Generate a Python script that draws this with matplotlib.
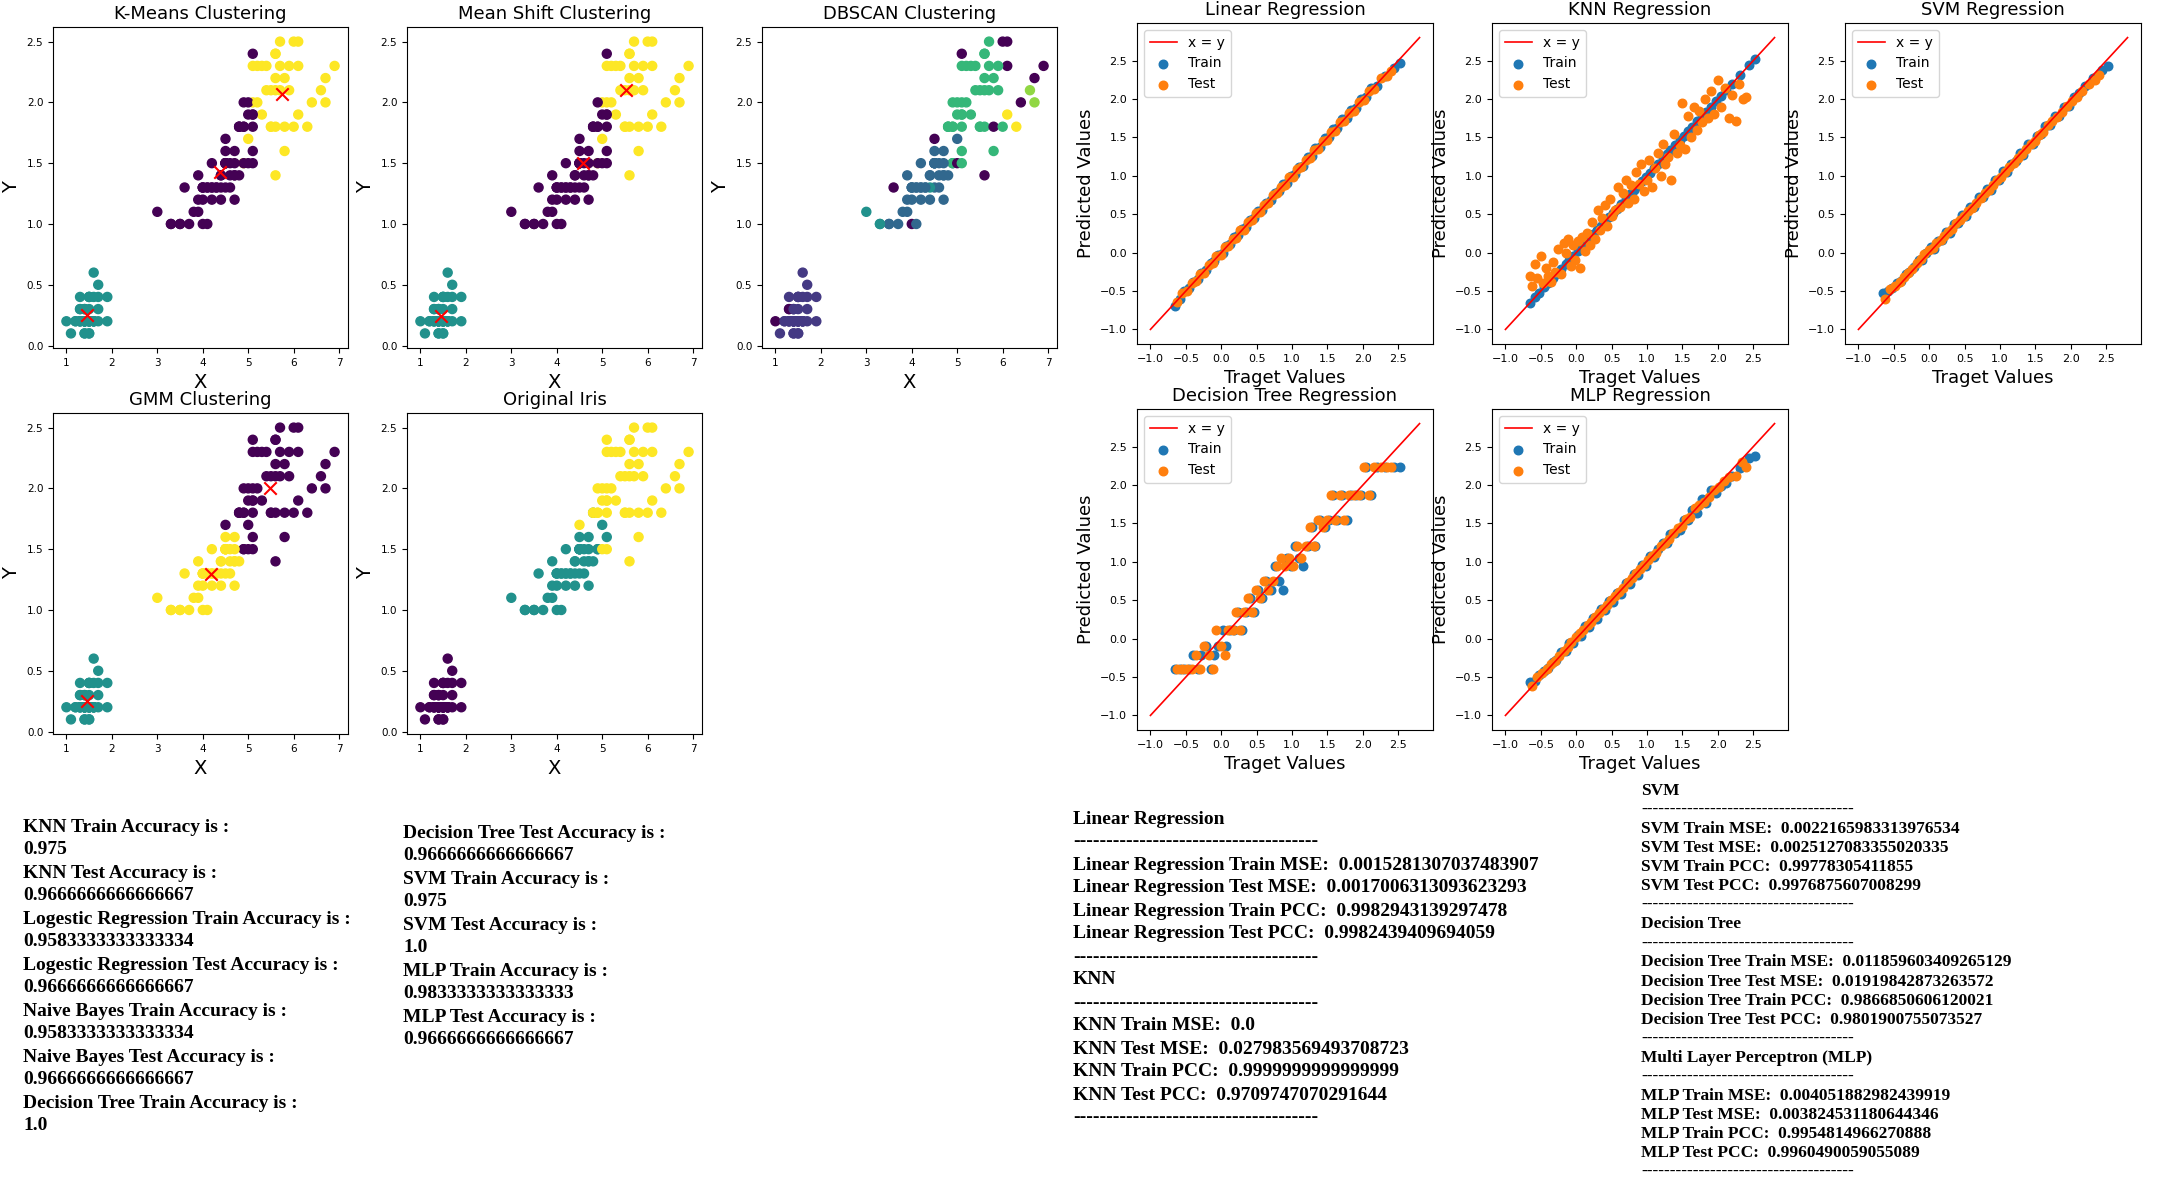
import matplotlib
matplotlib.use("Agg")
import matplotlib.pyplot as plt
from matplotlib.ticker import MultipleLocator
import numpy as np

W, H, DPI = 2162, 1184, 100

# ---------------- Iris petal data (X = petal length, Y = petal width) ----------------
PETAL_LENGTH = [
    1.4, 1.4, 1.3, 1.5, 1.4, 1.7, 1.4, 1.5, 1.4, 1.5, 1.5, 1.6, 1.4, 1.1, 1.2, 1.5, 1.3, 1.4, 1.7, 1.5,
    1.7, 1.5, 1.0, 1.7, 1.9, 1.6, 1.6, 1.5, 1.4, 1.6, 1.6, 1.5, 1.5, 1.4, 1.5, 1.2, 1.3, 1.4, 1.3, 1.5,
    1.3, 1.3, 1.3, 1.6, 1.9, 1.4, 1.6, 1.4, 1.5, 1.4,
    4.7, 4.5, 4.9, 4.0, 4.6, 4.5, 4.7, 3.3, 4.6, 3.9, 3.5, 4.2, 4.0, 4.7, 3.6, 4.4, 4.5, 4.1, 4.5, 3.9,
    4.8, 4.0, 4.9, 4.7, 4.3, 4.4, 4.8, 5.0, 4.5, 3.5, 3.8, 3.7, 3.9, 5.1, 4.5, 4.5, 4.7, 4.4, 4.1, 4.0,
    4.4, 4.6, 4.0, 3.3, 4.2, 4.2, 4.2, 4.3, 3.0, 4.1,
    6.0, 5.1, 5.9, 5.6, 5.8, 6.6, 4.5, 6.3, 5.8, 6.1, 5.1, 5.3, 5.5, 5.0, 5.1, 5.3, 5.5, 6.7, 6.9, 5.0,
    5.7, 4.9, 6.7, 4.9, 5.7, 6.0, 4.8, 4.9, 5.6, 5.8, 6.1, 6.4, 5.6, 5.1, 5.6, 6.1, 5.6, 5.5, 4.8, 5.4,
    5.6, 5.1, 5.1, 5.9, 5.7, 5.2, 5.0, 5.2, 5.4, 5.1,
]
PETAL_WIDTH = [
    0.2, 0.2, 0.2, 0.2, 0.2, 0.4, 0.3, 0.2, 0.2, 0.1, 0.2, 0.2, 0.1, 0.1, 0.2, 0.4, 0.4, 0.3, 0.3, 0.3,
    0.2, 0.4, 0.2, 0.5, 0.2, 0.2, 0.4, 0.2, 0.2, 0.2, 0.2, 0.4, 0.1, 0.2, 0.2, 0.2, 0.2, 0.1, 0.2, 0.2,
    0.3, 0.3, 0.2, 0.6, 0.4, 0.3, 0.2, 0.2, 0.2, 0.2,
    1.4, 1.5, 1.5, 1.3, 1.5, 1.3, 1.6, 1.0, 1.3, 1.4, 1.0, 1.5, 1.0, 1.4, 1.3, 1.4, 1.5, 1.0, 1.5, 1.1,
    1.8, 1.3, 1.5, 1.2, 1.3, 1.4, 1.4, 1.7, 1.5, 1.0, 1.1, 1.0, 1.2, 1.6, 1.5, 1.6, 1.5, 1.3, 1.3, 1.3,
    1.2, 1.4, 1.2, 1.0, 1.3, 1.2, 1.3, 1.3, 1.1, 1.3,
    2.5, 1.9, 2.1, 1.8, 2.2, 2.1, 1.7, 1.8, 1.8, 2.5, 2.0, 1.9, 2.1, 2.0, 2.4, 2.3, 1.8, 2.2, 2.3, 1.5,
    2.3, 2.0, 2.0, 1.8, 2.1, 1.8, 1.8, 1.8, 2.1, 1.6, 1.9, 2.0, 2.2, 1.5, 1.4, 2.3, 2.4, 1.8, 1.8, 2.1,
    2.4, 2.3, 1.9, 2.3, 2.5, 2.3, 1.9, 2.0, 2.3, 1.8,
]

# cluster labels per point, groups of ten (n = noise, -1)
KMEANS_LABELS = ("1111111111 1111111111 1111111111 1111111111 1111111111 "
                 "0020000000 0000000000 0000000200 0000000000 0000000000 "
                 "2022220222 2220022220 2020220022 2220222202 2202220220")
MEANSHIFT_LABELS = ("1111111111 1111111111 1111111111 1111111111 1111111111 "
                    "0020000000 0000000000 0000000200 0000000000 0000000000 "
                    "2022220222 2222022220 2020220022 2220222202 2202220220")
DBSCAN_LABELS = ("0000000000 0000000000 00n0000000 0000000000 0n00000000 "
                 "1111111211 11n1n11111 3131111111 1113111211 1112111121 "
                 "n33334n5nn 3333n33nnn 3343333333 5n33nn3333 3333333333")
GMM_LABELS = ("1111111111 1111111111 1111111111 1111111111 1111111111 "
              "2202222222 2222222222 0202222022 2220222222 2222222222 "
              "0000000000 0000000000 0000000000 0000000000 0000000000")
IRIS_LABELS = ("0000000000 0000000000 0000000000 0000000000 0000000000 "
               "1111111111 1111111111 1111111111 1111111111 1111111111 "
               "2222222222 2222222222 2222222222 2222222222 2222222222")

KMEANS_CX, KMEANS_CY = [1.46, 4.39, 5.74], [0.25, 1.43, 2.07]
MEANSHIFT_CX, MEANSHIFT_CY = [1.46, 4.57, 5.53], [0.24, 1.50, 2.10]
GMM_CX, GMM_CY = [1.46, 4.18, 5.47], [0.25, 1.30, 2.00]

# ---------------- Regression data ----------------
TRAIN_TARGET = [-0.66, -0.58, -0.52, -0.45, -0.40, -0.33, -0.28, -0.21, -0.15, -0.10,
                -0.04, 0.02, 0.07, 0.13, 0.18, 0.24, 0.29, 0.35, 0.41, 0.46,
                0.52, 0.57, 0.63, 0.70, 0.76, 0.81, 0.87, 0.93, 0.98, 1.04,
                1.10, 1.15, 1.22, 1.28, 1.33, 1.40, 1.46, 1.52, 1.58, 1.64,
                1.71, 1.77, 1.83, 1.90, 1.97, 2.04, 2.12, 2.20, 2.31, 2.44, 2.52]
TEST_TARGET = [-0.62, -0.55, -0.48, -0.42, -0.36, -0.30, -0.25, -0.18, -0.12, -0.07,
               -0.01, 0.05, 0.10, 0.16, 0.21, 0.27, 0.32, 0.38, 0.44, 0.49,
               0.55, 0.60, 0.66, 0.73, 0.79, 0.84, 0.90, 0.96, 1.01, 1.07,
               1.13, 1.19, 1.25, 1.31, 1.37, 1.43, 1.49, 1.55, 1.61, 1.68,
               1.74, 1.80, 1.87, 1.94, 2.01, 2.08, 2.16, 2.25, 2.34, 2.40]

LIN_TRAIN_PRED = [-0.70, -0.60, -0.50, -0.46, -0.38, -0.34, -0.27, -0.22, -0.13, -0.11,
                  -0.03, 0.00, 0.08, 0.11, 0.20, 0.23, 0.31, 0.34, 0.43, 0.45,
                  0.54, 0.56, 0.65, 0.68, 0.78, 0.80, 0.89, 0.91, 1.00, 1.02,
                  1.12, 1.13, 1.25, 1.26, 1.36, 1.38, 1.49, 1.50, 1.61, 1.62,
                  1.74, 1.75, 1.86, 1.88, 2.00, 2.02, 2.14, 2.17, 2.30, 2.40, 2.47]
LIN_TEST_PRED = [-0.64, -0.52, -0.50, -0.40, -0.37, -0.28, -0.26, -0.16, -0.13, -0.05,
                 -0.03, 0.07, 0.08, 0.18, 0.19, 0.29, 0.30, 0.40, 0.42, 0.51,
                 0.53, 0.62, 0.64, 0.75, 0.77, 0.86, 0.88, 0.98, 0.99, 1.09,
                 1.11, 1.21, 1.23, 1.33, 1.35, 1.45, 1.47, 1.57, 1.59, 1.70,
                 1.72, 1.82, 1.85, 1.96, 1.99, 2.10, 2.13, 2.28, 2.30, 2.37]

KNN_TRAIN_PRED = [-0.66, -0.58, -0.52, -0.45, -0.40, -0.33, -0.28, -0.21, -0.15, -0.10,
                  -0.04, 0.02, 0.07, 0.13, 0.18, 0.24, 0.29, 0.35, 0.41, 0.46,
                  0.52, 0.57, 0.63, 0.70, 0.76, 0.81, 0.87, 0.93, 0.98, 1.04,
                  1.10, 1.15, 1.22, 1.28, 1.33, 1.40, 1.46, 1.52, 1.58, 1.64,
                  1.71, 1.77, 1.83, 1.90, 1.97, 2.04, 2.12, 2.20, 2.31, 2.44, 2.52]
KNN_TEST_TARGET = [-0.65, -0.62, -0.58, -0.55, -0.50, -0.47, -0.43, -0.40, -0.36, -0.33,
                   -0.30, -0.26, -0.22, -0.18, -0.15, -0.12, -0.08, -0.05, -0.02, 0.02,
                   0.05, 0.08, 0.12, 0.15, 0.19, 0.22, 0.26, 0.30, 0.33, 0.37,
                   0.40, 0.44, 0.48, 0.51, 0.55, 0.59, 0.62, 0.66, 0.70, 0.73,
                   0.77, 0.81, 0.85, 0.88, 0.92, 0.96, 1.00, 1.03, 1.07, 1.11,
                   1.15, 1.19, 1.22, 1.26, 1.30, 1.34, 1.38, 1.42, 1.46, 1.50,
                   1.54, 1.58, 1.62, 1.66, 1.70, 1.74, 1.78, 1.82, 1.86, 1.90,
                   1.95, 2.00, 2.05, 2.10, 2.15, 2.20, 2.25, 2.30, 2.35, 2.40]
KNN_TEST_PRED = [-0.30, -0.44, -0.15, -0.33, -0.05, -0.40, -0.20, -0.30, -0.38, -0.12,
                 -0.25, 0.05, -0.28, 0.12, 0.00, 0.18, -0.18, 0.10, -0.10, 0.15,
                 -0.20, 0.20, 0.02, 0.25, 0.10, 0.40, 0.18, 0.55, 0.30, 0.45,
                 0.62, 0.35, 0.70, 0.48, 0.55, 0.85, 0.60, 0.78, 0.95, 0.65,
                 0.88, 0.70, 1.05, 0.90, 1.15, 0.80, 0.95, 1.20, 0.85, 1.10,
                 1.30, 1.00, 1.42, 1.15, 1.25, 0.95, 1.55, 1.30, 1.40, 1.95,
                 1.35, 1.78, 1.50, 1.90, 1.60, 1.85, 1.70, 2.00, 1.75, 2.10,
                 1.80, 2.25, 1.90, 2.15, 1.75, 2.05, 1.72, 2.20, 2.00, 2.02]

SVM_TRAIN_PRED = [-0.52, -0.50, -0.46, -0.40, -0.37, -0.28, -0.25, -0.19, -0.10, -0.09,
                  -0.01, 0.07, 0.05, 0.15, 0.16, 0.27, 0.26, 0.37, 0.38, 0.49,
                  0.48, 0.60, 0.59, 0.72, 0.72, 0.83, 0.82, 0.95, 0.94, 1.06,
                  1.05, 1.16, 1.19, 1.30, 1.27, 1.42, 1.41, 1.52, 1.54, 1.65,
                  1.66, 1.78, 1.78, 1.90, 1.91, 2.02, 2.08, 2.17, 2.28, 2.38, 2.43]
SVM_TEST_PRED = [-0.60, -0.48, -0.44, -0.38, -0.32, -0.27, -0.21, -0.14, -0.08, -0.02,
                 0.03, 0.06, 0.12, 0.17, 0.22, 0.27, 0.31, 0.38, 0.43, 0.48,
                 0.54, 0.58, 0.64, 0.71, 0.77, 0.82, 0.88, 0.94, 0.99, 1.05,
                 1.11, 1.17, 1.23, 1.28, 1.35, 1.41, 1.45, 1.53, 1.57, 1.66,
                 1.72, 1.77, 1.83, 1.91, 1.97, 2.03, 2.10, 2.20, 2.25, 2.31]

DT_TRAIN_PRED = [-0.40, -0.40, -0.40, -0.40, -0.21, -0.40, -0.21, -0.09, -0.40, -0.21,
                 -0.09, 0.11, -0.09, 0.11, 0.11, 0.35, 0.11, 0.35, 0.53, 0.35,
                 0.63, 0.53, 0.75, 0.63, 0.95, 0.75, 0.63, 1.05, 0.95, 1.21,
                 1.05, 0.95, 1.21, 1.45, 1.21, 1.55, 1.45, 1.55, 1.87, 1.55,
                 1.87, 1.55, 1.87, 1.87, 1.87, 2.24, 1.87, 2.24, 2.24, 2.24, 2.24]
DT_TEST_PRED = [-0.40, -0.40, -0.40, -0.40, -0.21, -0.40, -0.09, -0.21, -0.40, 0.11,
                -0.09, -0.21, 0.11, 0.11, 0.35, 0.11, 0.35, 0.53, 0.35, 0.63,
                0.53, 0.75, 0.63, 0.75, 0.95, 1.05, 0.95, 1.05, 0.95, 1.21,
                1.05, 1.21, 1.45, 1.21, 1.55, 1.45, 1.55, 1.87, 1.55, 1.87,
                1.55, 1.87, 1.87, 1.87, 2.24, 1.87, 2.24, 2.24, 2.24, 2.24]

MLP_TRAIN_PRED = [-0.57, -0.55, -0.47, -0.42, -0.38, -0.30, -0.28, -0.18, -0.16, -0.06,
                  -0.06, 0.05, 0.04, 0.16, 0.15, 0.27, 0.26, 0.38, 0.37, 0.49,
                  0.48, 0.60, 0.58, 0.73, 0.71, 0.84, 0.83, 0.96, 0.94, 1.07,
                  1.06, 1.17, 1.25, 1.24, 1.36, 1.38, 1.42, 1.55, 1.54, 1.67,
                  1.64, 1.82, 1.76, 1.93, 1.90, 1.99, 2.02, 2.12, 2.22, 2.35, 2.38]
MLP_TEST_PRED = [-0.62, -0.50, -0.45, -0.40, -0.33, -0.29, -0.22, -0.16, -0.11, -0.04,
                 0.02, 0.07, 0.11, 0.18, 0.22, 0.28, 0.33, 0.39, 0.44, 0.50,
                 0.56, 0.61, 0.66, 0.74, 0.79, 0.85, 0.91, 0.96, 1.02, 1.08,
                 1.12, 1.20, 1.25, 1.30, 1.38, 1.44, 1.47, 1.56, 1.58, 1.70,
                 1.74, 1.78, 1.85, 1.93, 1.98, 2.05, 2.10, 2.12, 2.30, 2.24]
LINE_ENDS = [-1.0, 2.8]

# ---------------- Text blocks ----------------
ACC_COL1 = ["KNN Train Accuracy is :", "0.975",
            "KNN Test Accuracy is :", "0.9666666666666667",
            "Logestic Regression Train Accuracy is :", "0.9583333333333334",
            "Logestic Regression Test Accuracy is :", "0.9666666666666667",
            "Naive Bayes Train Accuracy is :", "0.9583333333333334",
            "Naive Bayes Test Accuracy is :", "0.9666666666666667",
            "Decision Tree Train Accuracy is :", "1.0"]
ACC_COL2 = ["Decision Tree Test Accuracy is :", "0.9666666666666667",
            "SVM Train Accuracy is :", "0.975",
            "SVM Test Accuracy is :", "1.0",
            "MLP Train Accuracy is :", "0.9833333333333333",
            "MLP Test Accuracy is :", "0.9666666666666667"]
DASH = "-" * 37
REG_COL1 = ["Linear Regression", DASH,
            "Linear Regression Train MSE:  0.0015281307037483907",
            "Linear Regression Test MSE:  0.0017006313093623293",
            "Linear Regression Train PCC:  0.9982943139297478",
            "Linear Regression Test PCC:  0.9982439409694059",
            DASH, "KNN", DASH,
            "KNN Train MSE:  0.0",
            "KNN Test MSE:  0.027983569493708723",
            "KNN Train PCC:  0.9999999999999999",
            "KNN Test PCC:  0.9709747070291644", DASH]
REG_COL2 = ["SVM", DASH,
            "SVM Train MSE:  0.0022165983313976534",
            "SVM Test MSE:  0.0025127083355020335",
            "SVM Train PCC:  0.99778305411855",
            "SVM Test PCC:  0.9976875607008299",
            DASH, "Decision Tree", DASH,
            "Decision Tree Train MSE:  0.011859603409265129",
            "Decision Tree Test MSE:  0.01919842873263572",
            "Decision Tree Train PCC:  0.9866850606120021",
            "Decision Tree Test PCC:  0.9801900755073527",
            DASH, "Multi Layer Perceptron (MLP)", DASH,
            "MLP Train MSE:  0.004051882982439919",
            "MLP Test MSE:  0.003824531180644346",
            "MLP Train PCC:  0.9954814966270888",
            "MLP Test PCC:  0.9960490059055089", DASH]


def parse_labels(s):
    return [-1 if ch == "n" else int(ch) for ch in s if ch != " "]


fig = plt.figure(figsize=(W / DPI, H / DPI), dpi=DPI)
fig.patch.set_facecolor("white")


def rect(left, top, width, height):
    return [left / W, 1 - (top + height) / H, width / W, height / H]


def cluster_panel(left, top, title, labels, cx=None, cy=None):
    ax = fig.add_axes(rect(left, top, 295, 321))
    ax.scatter(PETAL_LENGTH, PETAL_WIDTH, c=parse_labels(labels), cmap="viridis", s=42)
    if cx is not None:
        ax.scatter(cx, cy, c="red", marker="x", s=80, linewidths=1.5)
    ax.set_title(title, fontsize=13)
    ax.set_xlabel("X", fontsize=14)
    ax.set_ylabel("Y", fontsize=14)
    ax.tick_params(labelsize=7.5)
    return ax


cluster_panel(53, 27, "K-Means Clustering", KMEANS_LABELS, KMEANS_CX, KMEANS_CY)
cluster_panel(407, 27, "Mean Shift Clustering", MEANSHIFT_LABELS, MEANSHIFT_CX, MEANSHIFT_CY)
cluster_panel(762, 27, "DBSCAN Clustering", DBSCAN_LABELS)
cluster_panel(53, 413, "GMM Clustering", GMM_LABELS, GMM_CX, GMM_CY)
cluster_panel(407, 413, "Original Iris", IRIS_LABELS)


def reg_panel(left, top, title, tr_x, tr_y, te_x, te_y):
    ax = fig.add_axes(rect(left, top, 296, 321))
    ax.plot(LINE_ENDS, LINE_ENDS, color="red", lw=1.2, label="x = y", zorder=3)
    ax.scatter(tr_x, tr_y, color="#1f77b4", s=38, label="Train")
    ax.scatter(te_x, te_y, color="#ff7f0e", s=38, label="Test")
    ax.xaxis.set_major_locator(MultipleLocator(0.5))
    ax.yaxis.set_major_locator(MultipleLocator(0.5))
    ax.set_title(title, fontsize=13)
    ax.set_xlabel("Traget Values", fontsize=13)
    ax.set_ylabel("Predicted Values", fontsize=13)
    ax.tick_params(labelsize=8)
    ax.legend(loc="upper left", fontsize=10)
    return ax


reg_panel(1137, 23, "Linear Regression", TRAIN_TARGET, LIN_TRAIN_PRED, TEST_TARGET, LIN_TEST_PRED)
reg_panel(1492, 23, "KNN Regression", TRAIN_TARGET, KNN_TRAIN_PRED, KNN_TEST_TARGET, KNN_TEST_PRED)
reg_panel(1845, 23, "SVM Regression", TRAIN_TARGET, SVM_TRAIN_PRED, TEST_TARGET, SVM_TEST_PRED)
reg_panel(1137, 409, "Decision Tree Regression", TRAIN_TARGET, DT_TRAIN_PRED, TEST_TARGET, DT_TEST_PRED)
reg_panel(1492, 409, "MLP Regression", TRAIN_TARGET, MLP_TRAIN_PRED, TEST_TARGET, MLP_TEST_PRED)


def text_block(lines, x, y0, dy, size):
    for i, s in enumerate(lines):
        fig.text(x / W, 1 - (y0 + i * dy) / H, s, fontsize=size, fontweight="bold",
                 family="Liberation Serif", va="center", ha="left")


text_block(ACC_COL1, 23, 827, 23.0, 14)
text_block(ACC_COL2, 403, 833, 23.0, 14)
text_block(REG_COL1, 1073, 819, 23.0, 14)
text_block(REG_COL2, 1641, 791, 19.05, 12.5)

fig.savefig("out.png", dpi=DPI, facecolor="white")
